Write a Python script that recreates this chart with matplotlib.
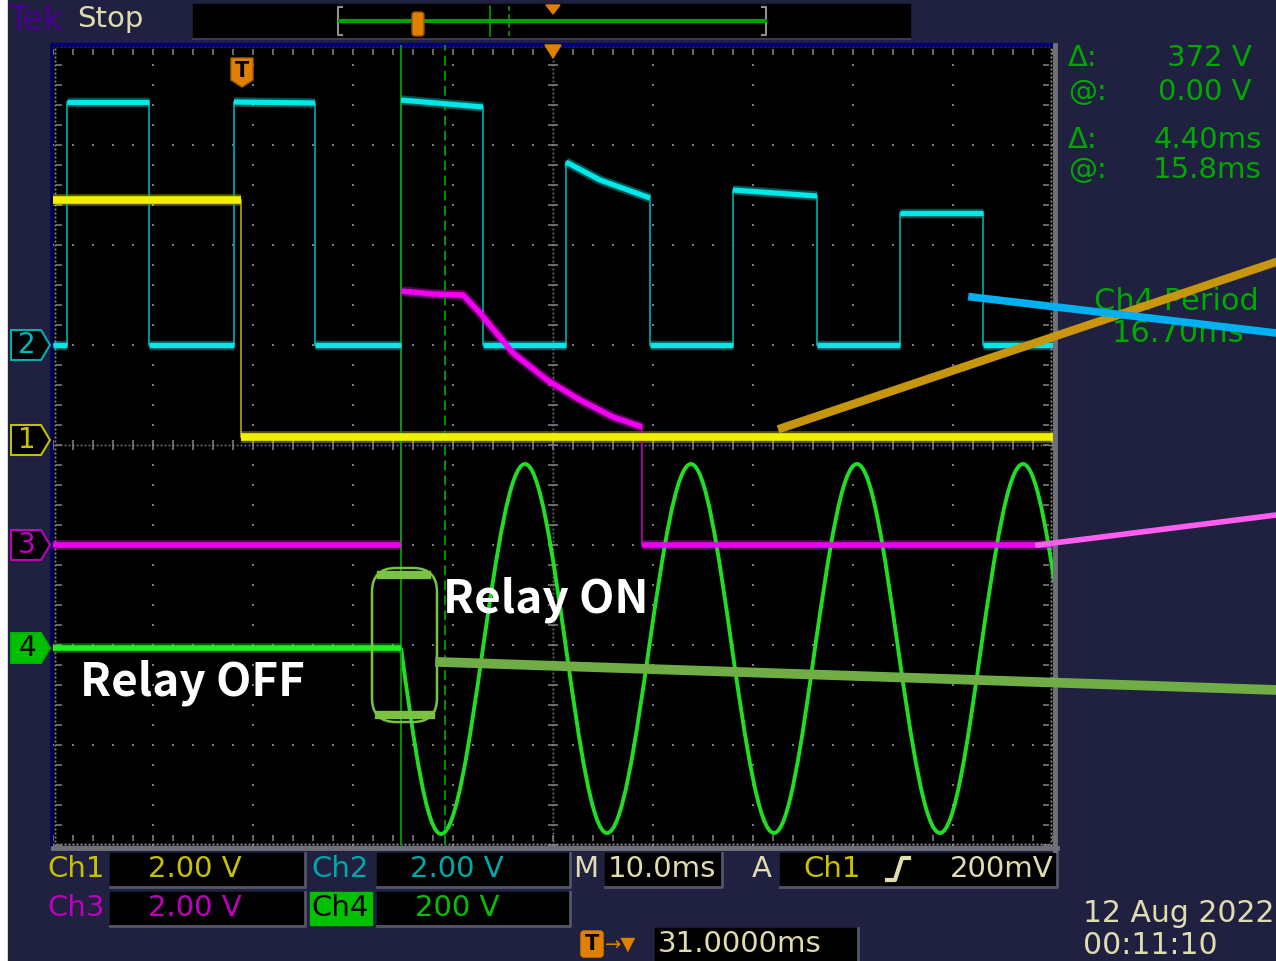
import numpy as np
import matplotlib
matplotlib.use('Agg')
import matplotlib.pyplot as plt
from matplotlib.path import Path
from matplotlib.patches import PathPatch, Polygon, FancyBboxPatch, Rectangle

# Escalas (V/div) y posición de tierra de cada canal (div respecto al centro)
ESCALA = {'1': 2.0, '2': 2.0, '3': 2.0, '4': 200.0}
OFFSET = {'1': 0.08, '2': 1.0, '3': -1.0, '4': -2.03}

# Ch1 (amarillo) - tiempos en ms, tensiones en V
ch1_t = [0.0, 18.8, 18.8, 100.0]
ch1_v = [4.74, 4.74, 0.0, 0.0]

# Ch2 (cian) - onda cuadrada
ch2_t = [0.0, 1.4, 1.4, 9.6, 9.6, 18.1, 18.1, 26.2, 26.2, 34.8, 34.8, 43.0, 43.0,
         51.3, 51.3, 54.7, 59.7, 59.7, 68.0, 68.0, 76.4, 76.4, 84.7, 84.7, 93.0, 93.0, 100.0]
ch2_v = [0.0, 0.0, 4.86, 4.86, 0.0, 0.0, 4.86, 4.84, 0.0, 0.0, 4.9, 4.76, 0.0,
         0.0, 3.66, 3.3, 2.94, 0.0, 0.0, 3.1, 2.98, 0.0, 0.0, 2.64, 2.64, 0.0, 0.0]

# Ch3 (magenta)
ch3_t = [0.0, 34.8, 34.8, 38.0, 41.0, 42.7, 46.0, 49.4, 52.7, 56.0, 58.9, 58.9, 100.0]
ch3_v = [0.0, 0.0, 5.08, 5.02, 5.0, 4.64, 3.84, 3.3, 2.9, 2.56, 2.36, 0.0, 0.0]

# Ch4 (verde) - tramo plano y seno (cruces por cero y extremos)
ch4_plano_t = [0.0, 34.8]
ch4_plano_v = [0.0, 0.0]
ch4_t = [34.8, 38.8, 43.0, 47.2, 51.3, 55.4, 59.6, 63.8, 67.9, 72.1, 76.2, 80.4,
         84.5, 88.7, 92.8, 97.0, 101.1]
ch4_v = [0, -372, 0, 368, 0, -370, 0, 368, 0, -370, 0, 368, 0, -370, 0, 368, 0]

# Cursores de tiempo (ms)
CURSOR_A = 34.8
CURSOR_B = 39.2

# Lecturas
LECTURAS = [('Δ:', '372 V'), ('@:', '0.00 V'), ('Δ:', '4.40ms'), ('@:', '15.8ms')]
MEDIDA = ('Ch4 Period', '16.70ms')

FONDO = '#202040'
VERDE_TXT = '#00a800'
BEIGE = '#e0dcb0'


def a_div(v, canal):
    return [OFFSET[canal] + vi / ESCALA[canal] for vi in v]


def nivel(tt, yy, color, lw):
    ax.plot(tt, yy, color=color, lw=lw + 3, alpha=0.35, zorder=3,
            solid_capstyle='butt', solid_joinstyle='round')
    ax.plot(tt, yy, color=color, lw=lw, zorder=3.1,
            solid_capstyle='butt', solid_joinstyle='round')


def dibujar_traza(t, v, canal, color, color_flanco, lw, lw_flanco=1.3):
    y = a_div(v, canal)
    tramo_t, tramo_y = [t[0]], [y[0]]
    for i in range(len(t) - 1):
        if t[i] == t[i + 1]:
            if len(tramo_t) > 1:
                nivel(tramo_t, tramo_y, color, lw)
            ax.plot([t[i], t[i + 1]], [y[i], y[i + 1]], color=color_flanco,
                    lw=lw_flanco, zorder=3)
            tramo_t, tramo_y = [t[i + 1]], [y[i + 1]]
        else:
            tramo_t.append(t[i + 1])
            tramo_y.append(y[i + 1])
    if len(tramo_t) > 1:
        nivel(tramo_t, tramo_y, color, lw)


def camino_seno(t, v, canal):
    y = a_div(v, canal)
    y0 = OFFSET[canal]
    verts = [(t[0], y[0])]
    codes = [Path.MOVETO]
    for i in range(len(t) - 1):
        dt = t[i + 1] - t[i]
        if v[i] == 0:
            p1 = (t[i] + 0.326 * dt, y0 + 0.512 * (y[i + 1] - y0))
            p2 = (t[i] + 0.638 * dt, y[i + 1])
        else:
            p1 = (t[i] + 0.362 * dt, y[i])
            p2 = (t[i] + 0.674 * dt, y0 + 0.512 * (y[i] - y0))
        verts += [p1, p2, (t[i + 1], y[i + 1])]
        codes += [Path.CURVE4] * 3
    return Path(verts, codes)


fig = plt.figure(figsize=(12.76, 9.61), dpi=100)
fig.patch.set_facecolor('white')

# Fondo en coordenadas de pixel
fondo = fig.add_axes([0, 0, 1, 1])
fondo.set_xlim(0, 1276)
fondo.set_ylim(961, 0)
fondo.axis('off')
fondo.add_patch(Rectangle((8, 0), 1268, 961, color=FONDO, zorder=0))

# Barra superior
fondo.text(8, 20, 'Tek', color='#4a0090', fontsize=24, va='center', ha='left')
fondo.text(77, 19, 'Stop', color=BEIGE, fontsize=21, va='center', ha='left')
fondo.add_patch(Rectangle((193, 4), 717, 34, color='black', zorder=1))
fondo.plot([193, 910], [38.5, 38.5], color='#3a3a50', lw=1.5, zorder=1)
for xb, d in [(338, 1), (766, -1)]:
    fondo.plot([xb + 4 * d, xb, xb, xb + 4 * d], [7, 7, 35, 35], color='#909090', lw=1.5, zorder=2)
fondo.plot([340, 765], [21, 21], color='#00a000', lw=3, zorder=2)
fondo.plot([490, 490], [6, 36], color='#00a000', lw=1.2, zorder=2)
fondo.plot([509, 509], [6, 36], color='#00a000', lw=1.2, ls=(0, (3, 2)), zorder=2)
fondo.add_patch(FancyBboxPatch((412, 12), 12, 24, boxstyle='round,pad=0,rounding_size=3',
                               fc='#e08000', ec='#a05000', lw=1, zorder=3))
fondo.add_patch(Polygon([(546, 5), (560, 5), (553, 14)], color='#e08000', zorder=3))

# Lecturas de cursores
ys_lect = [58, 92, 140, 170]
for (etq, val), yl in zip(LECTURAS, ys_lect):
    fondo.text(1068, yl, etq, color=VERDE_TXT, fontsize=21, va='center', ha='left')
    fondo.text(1262 if 'ms' in val else 1252, yl, val, color=VERDE_TXT,
               fontsize=21, va='center', ha='right')
fondo.text(1176, 302, MEDIDA[0], color=VERDE_TXT, fontsize=22, va='center', ha='center')
fondo.text(1178, 334, MEDIDA[1], color=VERDE_TXT, fontsize=22, va='center', ha='center')


def caja(x0, y0, x1, y1):
    fondo.add_patch(Rectangle((x0, y0), x1 - x0, y1 - y0, color='black', zorder=1))
    fondo.plot([x0, x1, x1], [y1 + 1, y1 + 1, y0], color='#55556a', lw=2, zorder=1)


# Lecturas inferiores
caja(110, 853, 305, 886)
caja(377, 853, 570, 886)
caja(605, 853, 722, 886)
caja(780, 853, 1057, 886)
caja(110, 892, 305, 925)
caja(377, 892, 570, 925)
caja(655, 928, 858, 961)
fondo.add_patch(Rectangle((310, 892), 62, 33, color='#00c000', zorder=1))

fila1, fila2, fila3 = 869, 908, 944
fondo.text(47, fila1, 'Ch1', color='#c8c000', fontsize=21, va='center')
fondo.text(148, fila1, '2.00 V', color='#c8c000', fontsize=21, va='center')
fondo.text(311, fila1, 'Ch2', color='#00a8a8', fontsize=21, va='center')
fondo.text(410, fila1, '2.00 V', color='#00a8a8', fontsize=21, va='center')
fondo.text(573, fila1, 'M', color=BEIGE, fontsize=21, va='center')
fondo.text(608, fila1, '10.0ms', color=BEIGE, fontsize=21, va='center')
fondo.text(752, fila1, 'A', color=BEIGE, fontsize=21, va='center')
fondo.text(803, fila1, 'Ch1', color='#c8c000', fontsize=21, va='center')
fondo.plot([887, 895, 902, 909], [880, 880, 858, 858], color=BEIGE, lw=3, zorder=2)
fondo.text(1053, fila1, '200mV', color=BEIGE, fontsize=21, va='center', ha='right')
fondo.text(47, fila2, 'Ch3', color='#c000c0', fontsize=21, va='center')
fondo.text(148, fila2, '2.00 V', color='#c000c0', fontsize=21, va='center')
fondo.text(311, fila2, 'Ch4', color='black', fontsize=21, va='center')
fondo.text(415, fila2, '200 V', color='#00c000', fontsize=21, va='center')
fondo.add_patch(FancyBboxPatch((581, 931), 22, 26, boxstyle='round,pad=0,rounding_size=3',
                               fc='#e08000', ec='#e08000', zorder=2))
fondo.text(592, 944, 'T', color='black', fontsize=15, fontweight='bold', va='center', ha='center', zorder=3)
fondo.text(605, 944, '→▼', color='#e08000', fontsize=14, va='center', ha='left')
fondo.text(658, fila3, '31.0000ms', color=BEIGE, fontsize=21, va='center')
fondo.text(1083, 913, '12 Aug 2022', color=BEIGE, fontsize=21.5, va='center')
fondo.text(1083, 945, '00:11:10', color=BEIGE, fontsize=21.5, va='center')

# Retícula
ax = fig.add_axes([53 / 1276, 1 - 845 / 961, 1000 / 1276, 800 / 961])
ax.set_zorder(1)
ax.set_facecolor('black')
ax.set_xlim(0, 100)
ax.set_ylim(-4, 4)
ax.set_xticks([])
ax.set_yticks([])
for s in ax.spines.values():
    s.set_visible(False)

GRIS = '#7c7c7c'
fino_t = np.arange(0, 100.01, 2)
fino_y = np.arange(-4, 4.001, 0.2)
for tx in range(10, 100, 10):
    if tx != 50:
        ax.plot(np.full_like(fino_y, tx), fino_y, ls='', marker='s', ms=1.5, mew=0, color=GRIS, zorder=1)
for yy in range(-3, 4):
    if yy != 0:
        ax.plot(fino_t, np.full_like(fino_t, yy), ls='', marker='s', ms=1.5, mew=0, color=GRIS, zorder=1)
denso_t = np.arange(0, 100.01, 0.4)
denso_y = np.arange(-4, 4.001, 0.04)
ax.plot(denso_t, np.zeros_like(denso_t), ls='', marker='s', ms=1.2, mew=0, color=GRIS, zorder=1)
ax.plot(np.full_like(denso_y, 50), denso_y, ls='', marker='s', ms=1.2, mew=0, color=GRIS, zorder=1)
ax.plot(fino_t, np.zeros_like(fino_t), ls='', marker='|', ms=7, mew=1.2, color=GRIS, zorder=1)
ax.plot(np.full_like(fino_y, 50), fino_y, ls='', marker='_', ms=7, mew=1.2, color=GRIS, zorder=1)
# Bordes
ax.plot(denso_t, np.full_like(denso_t, 3.99), ls='', marker='s', ms=1.3, mew=0, color='#9090a8', zorder=1)
ax.plot(denso_t, np.full_like(denso_t, -3.985), ls='', marker='s', ms=1.3, mew=0, color='#9a9a9a', zorder=1)
ax.plot(np.full_like(denso_y, 0.15), denso_y, ls='', marker='s', ms=1.3, mew=0, color='#9090a8', zorder=1)
ax.plot(np.full_like(denso_y, 99.8), denso_y, ls='', marker='s', ms=1.3, mew=0, color='#9a9a9a', zorder=1)
ax.plot(fino_t, np.full_like(fino_t, 3.93), ls='', marker='|', ms=5, mew=1.2, color=GRIS, zorder=1)
ax.plot(fino_t, np.full_like(fino_t, -3.93), ls='', marker='|', ms=5, mew=1.2, color=GRIS, zorder=1)
ax.plot(np.full_like(fino_y, 0.6), fino_y, ls='', marker='_', ms=5, mew=1.2, color=GRIS, zorder=1)
ax.plot(np.full_like(fino_y, 99.3), fino_y, ls='', marker='_', ms=5, mew=1.2, color=GRIS, zorder=1)
ax.plot([0, 100], [4.0, 4.0], color='#000070', lw=3, clip_on=False, zorder=2)
ax.plot([-0.2, -0.2], [-4, 4], color='#000060', lw=2, clip_on=False, zorder=2)
ax.plot([100.2, 100.2], [-4.05, 4], color='#707078', lw=3.5, clip_on=False, zorder=2)
ax.plot([0, 100.4], [-4.03, -4.03], color='#707078', lw=3.5, clip_on=False, zorder=2)

# Cursores
ax.axvline(CURSOR_A, color='#00a000', lw=1.3, zorder=3.05)
ax.axvline(CURSOR_B, color='#00a000', lw=1.3, ls=(0, (5.5, 2.8)), zorder=3.05)

# Trazas
dibujar_traza(ch1_t, ch1_v, '1', '#f0f000', '#a89800', 5.5)
dibujar_traza(ch2_t, ch2_v, '2', '#00e8e8', '#00a0a0', 3.8)
dibujar_traza(ch3_t, ch3_v, '3', '#f000f0', '#b000b0', 4.0)
dibujar_traza(ch4_plano_t, ch4_plano_v, '4', '#20f020', '#20c020', 4.0)
ax.add_patch(PathPatch(camino_seno(ch4_t, ch4_v, '4'), fc='none', ec='#22dd22', lw=2.8, zorder=3))

# Marcadores de canal
MARCAS = [('2', '#00b0b0', 'black', '#00b8b8'), ('1', '#c0c000', 'black', '#c8c000'),
          ('3', '#c000c0', 'black', '#c000c0'), ('4', '#00b000', '#00c000', 'black')]
for canal, borde, cara, texto in MARCAS:
    y0 = OFFSET[canal] if canal != '1' else 0.05
    ax.add_patch(Polygon([(-4.2, y0 + 0.15), (-1.2, y0 + 0.15), (-0.3, y0),
                          (-1.2, y0 - 0.15), (-4.2, y0 - 0.15)],
                         fc=cara, ec=borde, lw=1.5, clip_on=False, zorder=4))
    ax.text(-2.6, y0, canal, color=texto, fontsize=20, ha='center', va='center',
            clip_on=False, zorder=5)

# Marcador de disparo
tt, yt = 18.9, 3.73
ax.add_patch(Polygon([(tt - 1.1, yt + 0.14), (tt + 1.1, yt + 0.14), (tt + 1.1, yt - 0.08),
                      (tt, yt - 0.15), (tt - 1.1, yt - 0.08)], fc='#e08000', ec='#b06000',
                     lw=1, zorder=4))
ax.text(tt, yt + 0.01, 'T', color='black', fontsize=15, fontweight='bold',
        ha='center', va='center', zorder=5)
ax.add_patch(Polygon([(49.2, 4.0), (50.8, 4.0), (50.0, 3.87)], color='#e08000',
                     clip_on=False, zorder=4))

# Anotaciones superpuestas
VERDE_ANOT = '#7cc242'
ax.add_patch(FancyBboxPatch((31.9, -2.77), 6.5, 1.54, boxstyle='round,pad=0,rounding_size=2.4',
                            mutation_aspect=0.1, fc='none', ec=VERDE_ANOT, lw=1.8, zorder=5))
ax.plot([32.8, 37.4], [-1.3, -1.3], color=VERDE_ANOT, lw=6, zorder=5)
ax.plot([32.6, 37.8], [-2.7, -2.7], color=VERDE_ANOT, lw=6, zorder=5)

ax.plot([72.9, 122.3], [0.17, 1.83], color='#c8960c', lw=6, clip_on=False, zorder=6)
ax.plot([91.9, 122.3], [1.48, 1.12], color='#00b0f0', lw=5.5, clip_on=False, zorder=6)
ax.plot([98.5, 122.3], [-1.0, -0.7], color='#ff5ef0', lw=4, clip_on=False, zorder=6)
ax.plot([38.7, 122.3], [-2.17, -2.45], color='#70ad47', lw=7, clip_on=False, zorder=6)

ax.text(39.0, -1.55, 'Relay ON', color='white', fontsize=33, fontweight='bold',
        family=['Noto Sans CJK KR', 'DejaVu Sans'], ha='left', va='center', zorder=7)
ax.text(2.7, -2.38, 'Relay OFF', color='white', fontsize=33, fontweight='bold',
        family=['Noto Sans CJK KR', 'DejaVu Sans'], ha='left', va='center', zorder=7)

fig.savefig('out.png', dpi=100, facecolor=fig.get_facecolor())
